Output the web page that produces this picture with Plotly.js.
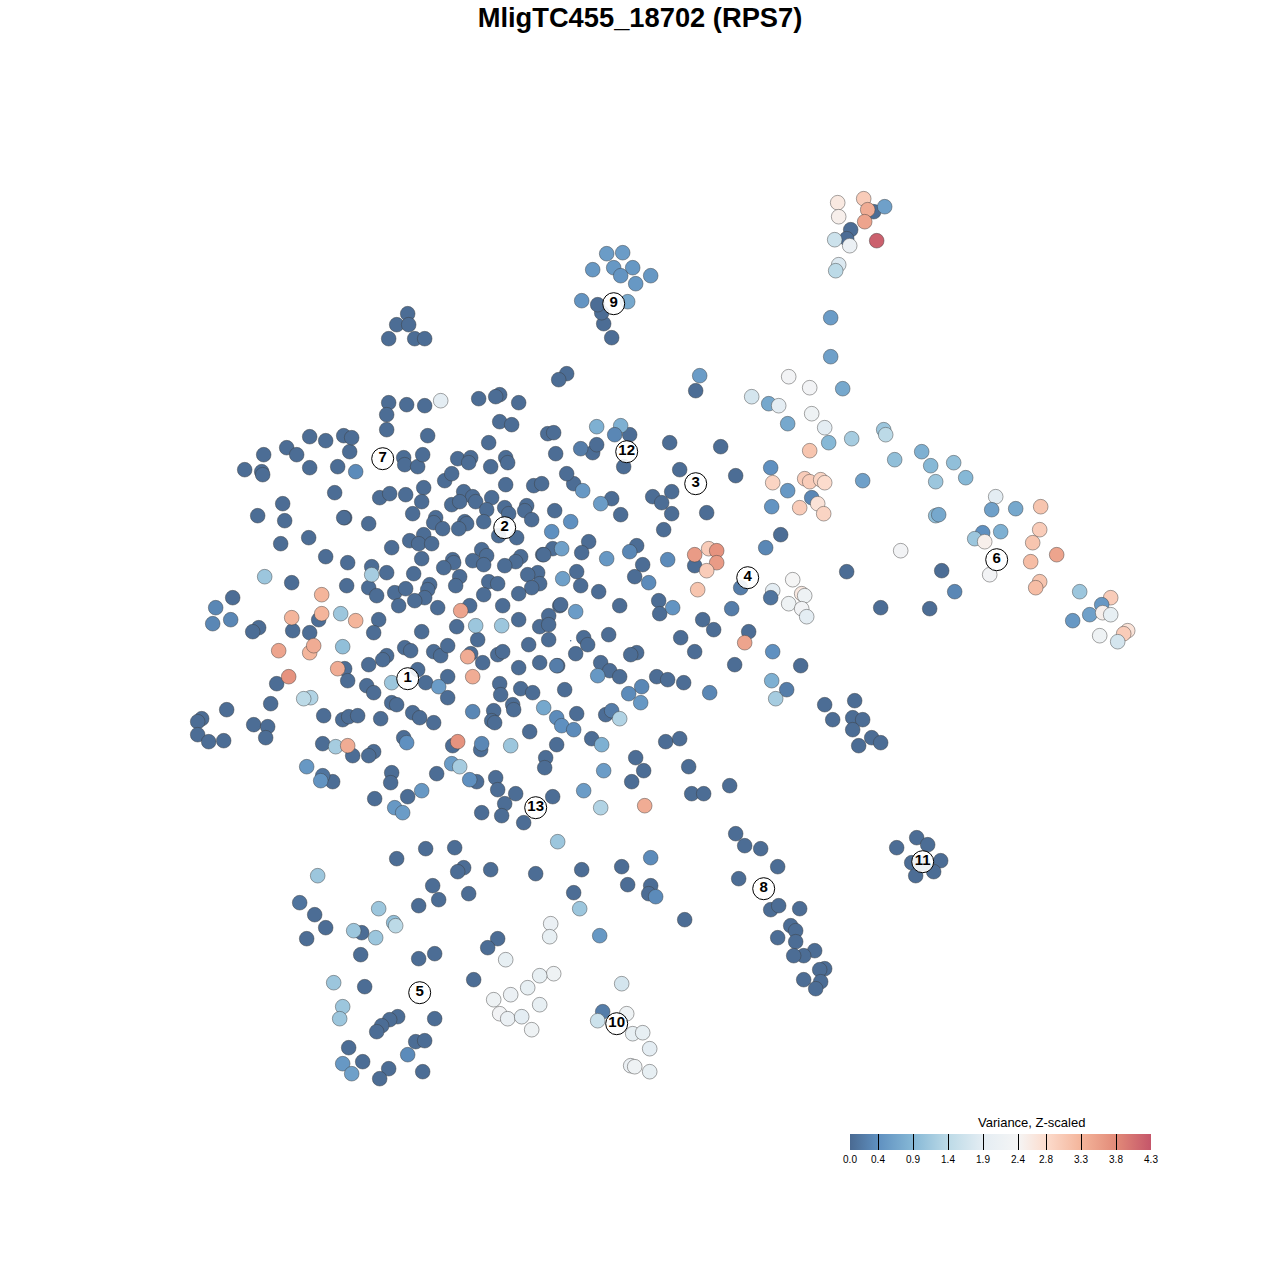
<!DOCTYPE html>
<html>
<head>
<meta charset="utf-8">
<script src="https://cdn.plot.ly/plotly-3.0.1.min.js"></script>
<style>html,body{margin:0;padding:0;background:#fff}#chart{width:1280px;height:1280px}</style>
</head>
<body>
<div id="chart"></div>
<script>
const chartTitle = "MligTC455_18702 (RPS7)";
const legendTitle = "Variance, Z-scaled";
const tickValues = [0.0, 0.4, 0.9, 1.4, 1.9, 2.4, 2.8, 3.3, 3.8, 4.3];
const tickColors = ["#4a6a92","#5f90c0","#86b8d6","#bcdae7","#e4edf3","#f5f5f5","#fcdccd","#f4b59b","#e28a78","#c5566a"];
const baseValue = 0.03;

const baseX = [379,389,405,423,421,412,368,444,463,472,451,459,475,491,505,533,541,504,508,486,483,526,524,531,554,435,433,442,464,466,458,498,516,423,409,418,431,391,421,481,486,472,483,452,453,443,520,515,504,542,552,371,386,413,459,455,537,527,539,531,488,497,483,518,368,376,394,405,429,427,424,414,398,437,469,502,518,548,559,378,373,421,456,539,548,
451,457,470,468,490,488,505,507,403,404,417,422,427,386,349,343,351,344,334,
477,528,548,404,410,386,433,440,447,470,482,497,502,518,539,557,417,425,447,447,366,373,499,500,520,532,391,396,412,419,433,380,493,491,494,512,513,529,403,373,368,452,480,556,545,544,391,436,382,368,
573,611,620,652,671,661,671,706,663,588,581,543,636,642,634,576,580,598,694,560,619,658,659,702,713,
583,587,608,575,680,694,636,630,600,609,619,656,667,683,734,564,576,605,591,665,679,635,643,688,
407,396,408,388,414,424,566,558,499,495,478,518,424,406,388,386,499,511,547,553,592,555,623,566,629,596,669,679,720,735,695,
309,325,286,296,263,244,261,262,309,337,282,257,284,343,308,280,325,347,291,346,232,258,252,292,309,318,344,347,276,270,226,201,197,197,208,223,253,267,265,323,342,348,357,322,352,332,390,374,407,476,495,497,515,504,481,501,523,552,631,691,703,729,
846,880,929,941,800,824,854,832,852,862,852,871,880,858,748,780,
735,744,760,777,738,770,778,799,790,795,777,795,814,803,793,824,819,820,803,815,916,927,896,911,922,940,933,915,
425,454,396,463,457,490,535,581,621,432,468,438,418,627,650,648,573,684,314,325,306,361,360,497,487,434,418,473,364,397,389,381,376,434,415,424,348,362,388,379,422,
611,603,601,597,873,850,846];
const baseY = [497,493,494,487,501,513,523,480,491,496,504,501,501,497,484,485,483,507,513,509,521,505,510,519,510,517,522,528,521,523,528,535,537,534,540,543,543,547,558,549,555,560,564,559,562,567,556,561,565,554,548,566,572,573,576,585,572,574,583,587,581,583,594,593,587,595,592,588,584,589,597,600,605,607,605,605,619,615,605,619,632,631,626,626,624,
473,458,457,462,466,442,457,462,457,464,466,454,435,429,451,435,437,517,492,
639,644,639,647,650,655,651,655,645,653,662,654,651,667,662,665,669,682,676,697,685,692,683,694,688,692,702,704,712,717,722,718,710,720,722,704,709,731,737,751,755,745,749,744,757,767,772,773,659,664,
483,498,514,496,491,502,513,512,529,541,552,554,545,564,576,571,585,591,565,604,605,600,613,619,629,
637,644,634,653,637,651,652,654,662,670,676,676,679,682,664,689,713,714,738,741,738,757,770,766,
313,324,324,338,338,338,373,379,394,396,398,402,405,404,402,414,421,424,433,432,452,453,466,473,434,444,442,469,446,475,390,
436,440,447,454,454,469,471,474,467,466,503,515,520,517,537,543,556,562,582,585,597,627,631,630,632,619,668,680,683,703,709,718,721,734,741,740,724,726,737,715,719,716,715,743,755,781,782,798,796,781,777,789,793,803,812,815,822,796,781,793,793,785,
571,607,608,570,665,704,700,719,717,719,729,737,742,745,631,534,
833,845,848,866,878,909,905,908,925,930,937,941,950,955,955,968,969,981,979,988,837,844,847,862,863,860,871,875,
848,847,858,867,871,869,873,869,866,885,893,899,905,884,885,893,892,919,914,927,938,932,954,938,947,953,958,979,986,1016,1019,1025,1031,1018,1041,1040,1047,1061,1068,1078,1071,
337,323,312,304,211,229,238];

const colorX = [551,561,371,562,460,475,501,467,391,472,438,472,543,556,561,573,406,457,481,510,451,459,582,600,570,606,629,667,648,575,672,731,740,694,708,716,716,706,697,556,597,628,641,640,709,611,619,601,603,355,596,620,614,580,
837,863,867,884,838,864,834,849,876,838,835,830,830,842,788,809,751,768,778,811,787,824,828,851,883,885,894,921,930,953,935,965,862,770,809,772,787,804,809,820,824,811,771,799,817,823,765,900,995,991,1015,1040,935,938,982,974,984,1000,1039,1032,1056,1030,989,1039,1035,954,1079,1110,1101,1089,1072,1102,1110,1127,1123,1099,1117,
772,770,792,788,801,804,801,806,744,772,771,786,775,699,
606,622,592,613,632,620,650,635,581,627,
440,264,215,230,212,321,291,321,340,355,342,309,313,278,337,288,310,303,335,347,306,322,320,421,394,402,469,583,600,644,557,650,655,317,299,378,393,395,353,375,579,599,550,549,505,553,539,527,333,493,510,539,499,507,521,531,621,342,339,602,626,597,632,642,649,407,342,351,630,634,649];
const colorY = [531,548,574,578,610,625,625,656,682,676,686,711,707,717,725,729,742,741,743,745,763,766,490,503,521,558,551,559,582,611,607,608,587,554,548,550,562,570,589,665,675,693,686,702,692,710,718,744,770,471,426,425,434,448,
202,198,209,206,216,221,239,245,240,264,270,317,356,388,376,387,396,403,405,413,423,427,442,438,429,434,459,451,465,462,481,477,480,467,450,482,490,478,481,479,482,497,506,507,503,513,547,550,496,509,508,506,515,514,532,538,541,531,529,542,554,561,574,581,587,591,591,597,604,614,620,612,614,630,633,635,641,
590,597,579,603,593,595,608,616,642,651,680,689,698,375,
253,252,269,267,267,275,275,283,300,301,
400,576,607,619,623,594,617,613,613,620,646,652,645,650,668,676,697,698,746,745,766,775,780,790,807,812,779,790,807,805,841,857,896,875,902,908,922,925,930,937,908,935,923,936,959,973,975,987,982,999,994,1004,1013,1018,1016,1029,983,1006,1018,1011,1013,1020,1033,1032,1048,1054,1063,1073,1065,1066,1071];
const colorV = [0.4,0.6,1.2,0.6,3.5,1.1,1.1,3.4,1.1,3.4,0.55,0.3,0.7,0.35,0.4,0.35,0.4,3.7,0.3,1.1,0.55,1.2,0.5,0.55,0.4,0.5,0.3,0.35,0.35,0.55,0.45,0.2,0.2,3.6,3.0,3.7,3.6,3.0,3.1,0.2,0.5,0.35,0.3,0.5,0.3,0.2,1.3,0.8,0.55,0.35,0.8,0.8,0.3,0.2,
2.6,3.0,3.4,0.6,2.5,3.5,1.6,2.1,4.2,1.8,1.4,0.55,0.6,0.7,2.3,2.3,1.7,0.7,1.9,2.2,0.7,1.9,0.9,1.2,1.1,1.4,1.0,0.8,0.9,1.0,1.1,0.9,0.6,0.4,3.1,2.9,0.5,3.0,3.0,2.9,2.8,0.3,0.45,3.0,2.7,2.9,0.3,2.3,1.9,0.6,0.7,3.1,1.0,0.7,0.4,1.1,2.5,0.8,3.0,3.1,3.5,3.2,2.3,3.1,3.2,0.3,1.1,3.0,0.5,0.6,0.5,2.5,2.0,2.7,3.0,2.2,1.7,
1.9,0.1,2.4,2.2,2.6,2.2,2.3,1.9,3.5,0.4,0.8,0.2,1.2,0.55,
0.55,0.55,0.5,0.5,0.5,0.45,0.5,0.5,0.45,0.7,
1.9,1.1,0.3,0.3,0.3,3.3,3.3,3.3,1.1,3.3,1.0,3.3,3.4,3.5,3.4,3.7,1.3,1.4,1.2,3.4,0.5,0.1,0.45,0.5,0.5,0.55,0.4,0.55,1.3,3.4,1.1,0.35,0.35,1.1,0.1,1.1,1.0,1.4,1.1,1.1,1.1,0.5,2.1,2.0,2.0,2.2,2.0,2.0,1.1,2.2,2.1,2.0,2.3,2.1,1.9,2.2,1.7,1.1,1.1,0.2,2.2,1.6,2.0,2.0,1.9,0.35,0.5,0.6,2.1,2.2,2.0];

const speckX = [570];
const speckY = [640];

const clusterLabels = ["1","2","3","4","5","6","7","8","9","10","11","12","13"];
const clusterX = [407,504,695,747,419,996,382,763,613,616,922,626,535];
const clusterY = [678,527,483,577,992,559,458,888,303,1023,861,451,807];

const vMax = tickValues[tickValues.length-1];
const colorscale = tickValues.map((v,i)=>[v/vMax, tickColors[i]]);
const pointLine = {color:"rgba(60,60,60,0.45)", width:1};

const traces = [
  {type:"scatter", mode:"markers", x:speckX, y:speckY, hoverinfo:"skip", showlegend:false,
   marker:{size:1.5, color:"#4a6a92", line:{width:0}}},
  {type:"scatter", mode:"markers", x:baseX, y:baseY, hoverinfo:"skip", showlegend:false,
   marker:{size:14.7, color:baseX.map(()=>baseValue), colorscale, cmin:0, cmax:vMax, showscale:false, line:pointLine}},
  {type:"scatter", mode:"markers", x:colorX, y:colorY, hoverinfo:"skip", showlegend:false,
   marker:{size:14.7, color:colorV, colorscale, cmin:0, cmax:vMax, line:pointLine,
     showscale:true,
     colorbar:{orientation:"h", x:850/1280, xanchor:"left", xpad:0, y:1-1181/1280, yanchor:"bottom", ypad:0,
       len:301, lenmode:"pixels", thickness:16, thicknessmode:"pixels", outlinewidth:0,
       tickmode:"array", tickvals:tickValues, ticktext:tickValues.map(v=>v.toFixed(1)),
       ticks:"inside", ticklen:16, tickwidth:1, tickcolor:"#000",
       tickfont:{family:"Liberation Sans, Arial, sans-serif", size:10, color:"#000"}}}},
  {type:"scatter", mode:"markers+text", x:clusterX, y:clusterY, text:clusterLabels, textposition:"middle center",
   hoverinfo:"skip", showlegend:false, cliponaxis:false,
   textfont:{family:"Liberation Sans, Arial, sans-serif", size:15, color:"#000", weight:700},
   marker:{size:22, color:"rgba(255,255,255,0.9)", line:{color:"#000", width:1}}}
];

const layout = {
  width:1280, height:1280, margin:{l:0,r:0,t:0,b:0,pad:0},
  paper_bgcolor:"#fff", plot_bgcolor:"#fff", showlegend:false,
  title:{text:chartTitle, x:0.5, xanchor:"center", y:1-17.5/1280, yanchor:"middle",
    font:{family:"Liberation Sans, Arial, sans-serif", size:27.3, color:"#000", weight:700}},
  xaxis:{range:[-0.7,1279.3], visible:false, fixedrange:true},
  yaxis:{range:[1279.3,-0.7], visible:false, fixedrange:true},
  annotations:[{text:legendTitle, xref:"x", yref:"y", x:1031, y:1122, showarrow:false,
    font:{family:"Liberation Sans, Arial, sans-serif", size:13, color:"#000"}}]
};
if (baseX.length!==baseY.length || colorX.length!==colorY.length || colorX.length!==colorV.length) {
  throw new Error("length mismatch "+[baseX.length, baseY.length, colorX.length, colorY.length, colorV.length].join(","));
}
Plotly.newPlot("chart", traces, layout, {staticPlot:true, displayModeBar:false});
</script>
</body>
</html>
